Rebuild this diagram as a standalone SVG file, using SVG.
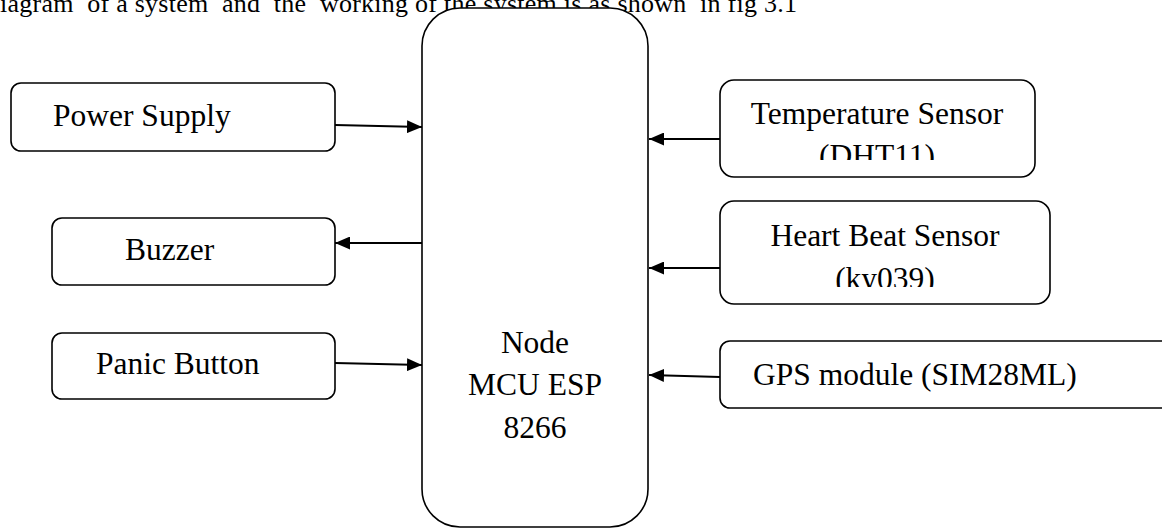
<svg xmlns="http://www.w3.org/2000/svg" width="1162" height="529" viewBox="0 0 1162 529">
  <style>
    .box { fill: #ffffff; stroke: #000000; stroke-width: 1.6; }
    .lbl { font-family: "Liberation Serif", "Times New Roman", serif; font-size: 31.5px; fill: #000000; }
    .hdr { font-family: "Liberation Serif", "Times New Roman", serif; font-size: 26px; fill: #000000; white-space: pre; }
    .conn { stroke: #000000; stroke-width: 2; fill: none; }
  </style>
  <defs>
    <marker id="arrow" viewBox="0 0 15 13" refX="15" refY="6.5" markerWidth="15" markerHeight="13" markerUnits="userSpaceOnUse" orient="auto">
      <path d="M0,0 L15,6.5 L0,13 Z" fill="#000000"/>
    </marker>
    <clipPath id="clipTemp"><rect x="720" y="80" width="316" height="80"/></clipPath>
    <clipPath id="clipHeart"><rect x="720" y="200" width="331" height="87"/></clipPath>
  </defs>
  <rect width="1162" height="529" fill="#ffffff"/>

  <text class="hdr" x="0" y="12" xml:space="preserve" textLength="797" lengthAdjust="spacing">iagram  of a system  and  the  working of the system is as shown  in fig 3.1</text>

  <g id="node-mcu">
    <rect class="box" x="422" y="8" width="226" height="519" rx="38" ry="38"/>
    <text class="lbl" text-anchor="middle" x="535" y="353">Node</text>
    <text class="lbl" text-anchor="middle" x="535" y="395">MCU ESP</text>
    <text class="lbl" text-anchor="middle" x="535" y="438">8266</text>
  </g>

  <g id="node-power">
    <rect class="box" x="11" y="83" width="324" height="68" rx="10" ry="10"/>
    <text class="lbl" x="53" y="126">Power Supply</text>
  </g>

  <g id="node-buzzer">
    <rect class="box" x="52" y="218" width="283" height="67" rx="10" ry="10"/>
    <text class="lbl" x="125" y="260">Buzzer</text>
  </g>

  <g id="node-panic">
    <rect class="box" x="52" y="333" width="283" height="66" rx="10" ry="10"/>
    <text class="lbl" x="96" y="374">Panic Button</text>
  </g>

  <g id="node-temp">
    <rect class="box" x="720" y="80" width="315" height="97" rx="14" ry="14"/>
    <g clip-path="url(#clipTemp)">
      <text class="lbl" text-anchor="middle" x="877" y="124">Temperature Sensor</text>
      <text class="lbl" text-anchor="middle" x="877" y="166">(DHT11)</text>
    </g>
  </g>

  <g id="node-heart">
    <rect class="box" x="720" y="201" width="330" height="103" rx="14" ry="14"/>
    <g clip-path="url(#clipHeart)">
      <text class="lbl" text-anchor="middle" x="885" y="246">Heart Beat Sensor</text>
      <text class="lbl" text-anchor="middle" x="885" y="289">(ky039)</text>
    </g>
  </g>

  <g id="node-gps">
    <rect class="box" x="720" y="341" width="470" height="67" rx="10" ry="10"/>
    <text class="lbl" x="753" y="385">GPS module (SIM28ML)</text>
  </g>

  <g id="connectors">
    <line class="conn" x1="335" y1="125" x2="422" y2="127" marker-end="url(#arrow)"/>
    <line class="conn" x1="422" y1="243" x2="335" y2="243" marker-end="url(#arrow)"/>
    <line class="conn" x1="335" y1="363" x2="422" y2="365" marker-end="url(#arrow)"/>
    <line class="conn" x1="720" y1="139" x2="649" y2="139" marker-end="url(#arrow)"/>
    <line class="conn" x1="720" y1="268" x2="649" y2="268" marker-end="url(#arrow)"/>
    <line class="conn" x1="720" y1="377" x2="649" y2="375" marker-end="url(#arrow)"/>
  </g>
</svg>
